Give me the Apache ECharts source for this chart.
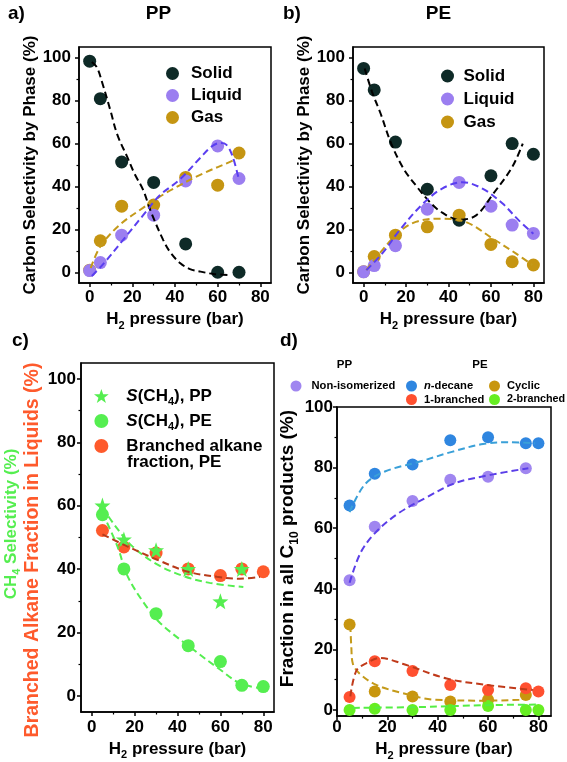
<!DOCTYPE html>
<html><head><meta charset="utf-8">
<script src="https://cdn.jsdelivr.net/npm/echarts@6/dist/echarts.min.js"></script>
<style>html,body{margin:0;padding:0;background:#fff}#c{width:567px;height:762px}</style>
</head><body><div id="c"></div>
<script>
// ---------- data ----------
// Panel a (PP)
const pressA = [0, 5, 15, 30, 45, 60, 70];
const aSolid = [98.4, 80.9, 51.4, 41.9, 13.2, 0, 0];
const aLiquid = [0.8, 4.5, 17.3, 26.6, 42.6, 58.9, 43.7];
const aGas = [1, 14.7, 30.8, 31.3, 44.2, 40.6, 55.6];
const aSolidFit = [[1,98],[3.4,95.5],[6,88],[9.7,75.5],[13,64],[17.5,54],[21,46],[25,38.5],[29,27.5],[34.5,15],[38,9],[42.5,4.2],[47,1.5],[52,0.3],[58,-0.8],[66,-1.3]];
const aLiquidFit = [[1,-1.7],[6.5,4],[16,15.5],[25,26.5],[33,36],[42,43],[52,53.5],[57,58.5],[61,60.2],[64,59.5],[67,54],[70,43]];
const aGasFit = [[0.5,2],[5,12],[14,22],[25,30],[37.5,38],[53,46],[67,52],[70,54]];
// Panel b (PE)
const pressB = [0, 5, 15, 30, 45, 60, 70, 80];
const bSolid = [95, 85, 60.7, 38.7, 24.3, 45, 60, 55];
const bLiquid = [0.2, 3.1, 12.4, 29.4, 41.9, 30.8, 22, 18.1];
const bGas = [0.3, 7.3, 17.3, 21.2, 26.6, 13, 4.9, 3.4];
const bSolidFit = [[0.5,95],[4,84],[8,74],[13,60],[19,48],[25,40],[30,34],[36,28.5],[45,24.5],[53,26.5],[61,36.5],[70,49],[75,60]];
const bLiquidFit = [[1.3,1],[9,9],[17,19.7],[28,32],[37,39],[46.5,42],[56,39],[65.5,32],[73,24.3],[80,18]];
const bGasFit = [[1.3,1],[7.5,8.8],[17,19],[24.6,23.5],[35.7,25],[48,23.5],[60.7,15.8],[71.7,8.8],[79.5,3.4]];
// Panel c
const pressCPP = [5, 15, 30, 45, 60, 70];
const cCH4PP = [60.1, 49.4, 46, 40.1, 29.9, 40.1];
const pressCPE = [5, 15, 30, 45, 60, 70, 80];
const cCH4PE = [57.2, 40.1, 26, 15.9, 10.9, 3.4, 3];
const cBranched = [52.2, 47, 45.1, 40.1, 38, 40.1, 39.2];
const cPPFit = [[5,59.5],[11,53.6],[19,47.2],[30.5,41.5],[43,37.8],[55,35.7],[70.7,34.4]];
const cPEFit = [[5,57.8],[12,47.2],[16.6,38],[24.3,29.4],[32,23],[47.5,14.6],[60,8.3],[69,4.1],[78.5,2.5]];
const cBranchedFit = [[5,51],[16.6,47.2],[30.5,43],[44.4,39.3],[58.4,37.6],[69,37],[78.5,37.6]];
// Panel d
const pressDPP = [5, 15, 30, 45, 60, 75];
const dNonIso = [42.8, 60.5, 69, 76, 77, 79.8];
const pressDPE = [5, 15, 30, 45, 60, 75, 80];
const dDecane = [67.5, 78, 81, 89, 90, 88, 88];
const dCyclic = [28.2, 6.1, 4.5, 2.8, 3.4, 5];
const pressDCyc = [5, 15, 30, 45, 60, 75];
const d1Branched = [4.3, 16.1, 12.9, 8.3, 6.6, 7.2, 6.1];
const d2Branched = [0, 0.4, 0, 0, 1.3, 0, 0];
const dDecaneFit = [[5,65.3],[11,74.4],[19,78.7],[33,82],[45.6,85.2],[58,87.8],[68.5,88.4],[78.7,88]];
const dNonIsoFit = [[5,42],[9.3,51.8],[15,58.3],[24,64.7],[35.4,70.1],[47,74.9],[61,77.6],[76,79.8]];
const dCyclicFit = [[5.3,28],[5.7,20.6],[6.3,15.3],[9,12],[15.6,8.3],[26,5.6],[39,3.4],[59,3.1],[74,3.4]];
const d1BranchedFit = [[5.3,4.5],[7.7,13],[11.7,15.5],[17,17.2],[26,15.3],[43.5,10.4],[59.3,8.3],[77.8,6.6]];
const d2BranchedFit = [[6.3,0.7],[33,1],[59,1.6],[79,1.8]];
// tick labels
const ticksX = [0, 20, 40, 60, 80];
const minorX = [10, 30, 50, 70];
const ticksY = [0, 20, 40, 60, 80, 100];
const minorY = [10, 30, 50, 70, 90];

// ---------- styling ----------
const F = '"Liberation Sans", Arial, Helvetica, sans-serif';
const C = {
  solid: '#0e2a27', liquid: '#9b7ef0', gas: '#c59512',
  liqFit: '#5a3ef0', gasFit: '#c49a1a', solFit: '#000000',
  green: '#55ee50', red: '#fe5a2c', redFit: '#b83a1a',
  dPurple: '#a086f0', dBlue: '#2f86e0', dGold: '#c8960e', dRed: '#ff5030', dGreen: '#66ee22',
  dBlueFit: '#3aa0d8', dPurpleFit: '#5a3ee8', dGoldFit: '#c49a1a', dRedFit: '#c03a1a', dGreenFit: '#55ee44'
};
const STAR = 'path://M0,-1L0.235,-0.324L0.951,-0.309L0.38,0.124L0.588,0.809L0,0.4L-0.588,0.809L-0.38,0.124L-0.951,-0.309L-0.235,-0.324Z';
const subRich = { s: { fontSize: 11, fontWeight: 'bold', fontFamily: F, color: '#000', verticalAlign: 'bottom', lineHeight: 11 } };
const subRich12 = { s: { fontSize: 12, fontWeight: 'bold', fontFamily: F, color: '#000', verticalAlign: 'bottom', lineHeight: 12 } };
const xName = 'H{s|2} pressure (bar)';

const grids = [
  { left: 79, top: 47, width: 192, height: 236 },
  { left: 353, top: 47, width: 191, height: 236 },
  { left: 81, top: 363, width: 193, height: 349 },
  { left: 337, top: 407, width: 214, height: 317 }
].map(g => Object.assign(g, { show: true, borderColor: '#000', borderWidth: 1.5, backgroundColor: 'transparent', containLabel: false }));

const xAxis = [], yAxis = [];
function addAxes(g, c) {
  const lab = { fontSize: 17, fontWeight: 'bold', fontFamily: F, color: '#000' };
  xAxis.push({
    type: 'value', gridIndex: g, position: 'bottom', min: c.xmin, max: c.xmax,
    axisLine: { onZero: false, lineStyle: { color: '#000', width: 1.5 } },
    axisTick: { customValues: ticksX, length: 4, lineStyle: { color: '#000', width: 1.5 } },
    axisLabel: Object.assign({ customValues: ticksX, margin: c.xMargin }, lab),
    splitLine: { show: false },
    name: xName, nameLocation: 'middle', nameGap: c.xGap,
    nameTextStyle: { fontSize: 17, fontWeight: 'bold', fontFamily: F, color: '#000', lineHeight: 24, rich: subRich }
  });
  xAxis.push({
    type: 'value', gridIndex: g, position: 'bottom', min: c.xmin, max: c.xmax,
    axisLine: { show: false, onZero: false }, axisLabel: { show: false }, splitLine: { show: false },
    axisTick: { customValues: minorX, length: 2.5, lineStyle: { color: '#000', width: 1.2 } }
  });
  yAxis.push({
    type: 'value', gridIndex: g, position: 'left', min: c.ymin, max: c.ymax,
    axisLine: { onZero: false, lineStyle: { color: '#000', width: 1.5 } },
    axisTick: { customValues: ticksY, length: 4, lineStyle: { color: '#000', width: 1.5 } },
    axisLabel: Object.assign({ customValues: ticksY, margin: c.yMargin }, lab),
    splitLine: { show: false },
    name: c.yName || '', nameLocation: 'middle', nameGap: c.yGap || 30,
    nameTextStyle: Object.assign({ fontSize: 17, fontWeight: 'bold', fontFamily: F, color: '#000' }, c.yNameStyle || {})
  });
  yAxis.push({
    type: 'value', gridIndex: g, position: 'left', min: c.ymin, max: c.ymax,
    axisLine: { show: false, onZero: false }, axisLabel: { show: false }, splitLine: { show: false },
    axisTick: { customValues: minorY, length: 2.5, lineStyle: { color: '#000', width: 1.2 } }
  });
}
addAxes(0, { xmin: -5, xmax: 85, ymin: -5, ymax: 105, xMargin: 6, yMargin: 8, xGap: 24, yName: 'Carbon Selectivity by Phase (%)', yGap: 37 });
addAxes(1, { xmin: -5, xmax: 85, ymin: -5, ymax: 105, xMargin: 6, yMargin: 8, xGap: 24, yName: 'Carbon Selectivity by Phase (%)', yGap: 37 });
addAxes(2, { xmin: -5, xmax: 85, ymin: -5, ymax: 105, xMargin: 7, yMargin: 5, xGap: 24 });
addAxes(3, { xmin: 0, xmax: 85, ymin: -2, ymax: 100, xMargin: 3, yMargin: 4, xGap: 19,
  yName: 'Fraction in all C{s|10} products (%)', yGap: 27, yNameStyle: { fontSize: 19, lineHeight: 25, padding: [0, 0, 0, 26], rich: subRich12 } });

function zip(xs, ys) { return xs.map((x, i) => [x, ys[i]]); }
function sc(name, g, xs, ys, color, size, symbol) {
  return { type: 'scatter', name, xAxisIndex: 2 * g, yAxisIndex: 2 * g, data: zip(xs, ys),
    symbol: symbol || 'circle', symbolSize: size, itemStyle: { color, opacity: 1 }, z: 2, silent: true };
}
function fit(g, pts, color) {
  return { type: 'line', xAxisIndex: 2 * g, yAxisIndex: 2 * g, data: pts, smooth: 0.35, symbol: 'none',
    lineStyle: { color, width: 2, type: [7, 4] }, z: 3, silent: true };
}

const series = [
  sc('Solid', 0, pressA, aSolid, C.solid, 13),
  sc('Gas', 0, pressA, aGas, C.gas, 13),
  sc('Liquid', 0, pressA, aLiquid, C.liquid, 13),
  fit(0, aSolidFit, C.solFit), fit(0, aGasFit, C.gasFit), fit(0, aLiquidFit, C.liqFit),
  sc('Solid', 1, pressB, bSolid, C.solid, 13),
  sc('Gas', 1, pressB, bGas, C.gas, 13),
  sc('Liquid', 1, pressB, bLiquid, C.liquid, 13),
  fit(1, bSolidFit, C.solFit), fit(1, bGasFit, C.gasFit), fit(1, bLiquidFit, C.liqFit),
  sc('Branched alkane fraction, PE', 2, pressCPE, cBranched, C.red, 13),
  sc('S(CH4), PE', 2, pressCPE, cCH4PE, C.green, 13),
  sc('S(CH4), PP', 2, pressCPP, cCH4PP, C.green, 16, STAR),
  fit(2, cPPFit, C.green), fit(2, cPEFit, C.green), fit(2, cBranchedFit, C.redFit),
  sc('Non-isomerized', 3, pressDPP, dNonIso, C.dPurple, 12),
  sc('n-decane', 3, pressDPE, dDecane, C.dBlue, 12),
  sc('Cyclic', 3, pressDCyc, dCyclic, C.dGold, 12),
  sc('1-branched', 3, pressDPE, d1Branched, C.dRed, 12),
  sc('2-branched', 3, pressDPE, d2Branched, C.dGreen, 12),
  fit(3, dDecaneFit, C.dBlueFit), fit(3, dNonIsoFit, C.dPurpleFit), fit(3, dCyclicFit, C.dGoldFit),
  fit(3, d1BranchedFit, C.dRedFit), fit(3, d2BranchedFit, C.dGreenFit)
];

const lgText = (size, lh) => ({ fontSize: size, fontWeight: 'bold', fontFamily: F, color: '#000', lineHeight: lh });
const circ = n => ({ name: n, icon: 'circle' });
const legend = [
  { data: ['Solid', 'Liquid', 'Gas'].map(circ), orient: 'vertical', left: 161, top: 59, itemWidth: 27, itemHeight: 13, itemGap: 3, textStyle: lgText(17, 19), selectedMode: false },
  { data: ['Solid', 'Liquid', 'Gas'].map(circ), orient: 'vertical', left: 436, top: 61.5, itemWidth: 22, itemHeight: 13, itemGap: 4, textStyle: lgText(17, 19), selectedMode: false },
  { data: [{ name: 'S(CH4), PP', icon: STAR }, circ('S(CH4), PE'), circ('Branched alkane fraction, PE')],
    orient: 'vertical', left: 89, top: 380, itemWidth: 40, itemHeight: 14, itemGap: 3, selectedMode: false,
    formatter: n => ({ 'S(CH4), PP': '{i|S}(CH{s|4}), PP', 'S(CH4), PE': '{i|S}(CH{s|4}), PE', 'Branched alkane fraction, PE': 'Branched alkane' })[n],
    textStyle: Object.assign(lgText(17, 22), { rich: {
      i: { fontStyle: 'italic', fontWeight: 'bold', fontSize: 17, fontFamily: F, color: '#000', lineHeight: 22 },
      s: { fontSize: 11, fontWeight: 'bold', fontFamily: F, color: '#000', verticalAlign: 'bottom', lineHeight: 11 } } }) },
  { data: [circ('Non-isomerized')], left: 285.5, top: 374, itemWidth: 21, itemHeight: 11, textStyle: lgText(11.2, 14), selectedMode: false },
  { data: [circ('n-decane')], left: 401, top: 374, itemWidth: 15, itemHeight: 11, textStyle: Object.assign(lgText(11.2, 14), { rich: { i: { fontStyle: 'italic', fontWeight: 'bold', fontSize: 11.2, fontFamily: F, color: '#000' } } }), formatter: () => '{i|n}-decane', selectedMode: false },
  { data: [circ('Cyclic')], left: 484, top: 374, itemWidth: 15, itemHeight: 11, textStyle: lgText(11.2, 14), selectedMode: false },
  { data: [circ('1-branched')], left: 401, top: 387.5, itemWidth: 15, itemHeight: 11, textStyle: lgText(11.2, 14), selectedMode: false },
  { data: [circ('2-branched')], left: 484, top: 387.5, itemWidth: 15, itemHeight: 11, textStyle: lgText(10.8, 14), selectedMode: false }
];

const T = (text, x, y, size, align, fill) => ({ type: 'text', x, y, silent: true,
  style: { text, font: 'bold ' + size + 'px ' + F, fill: fill || '#000', align: align || 'left', verticalAlign: 'middle' } });
const graphic = [
  T('a)', 8, 14, 19), T('PP', 158.5, 14, 19, 'center'),
  T('b)', 283, 14, 19), T('PE', 438.5, 14, 19, 'center'),
  T('c)', 12, 341, 19), T('d)', 280, 341, 19),
  T('fraction, PE', 127, 462, 17),
  T('PP', 344.5, 365, 11.5, 'center'), T('PE', 480, 365, 11.5, 'center'),
  { type: 'text', x: 11, y: 524, rotation: Math.PI / 2, silent: true,
    style: { text: 'CH{s|4} Selectivity (%)', font: 'bold 17px ' + F, fill: C.green, align: 'center', verticalAlign: 'middle', lineHeight: 22,
      rich: { s: { fontSize: 11, fontWeight: 'bold', fontFamily: F, fill: C.green, verticalAlign: 'bottom', lineHeight: 11 } } } },
  { type: 'text', x: 33, y: 550, rotation: Math.PI / 2, silent: true,
    style: { text: 'Branched Alkane Fraction in Liquids (%)', font: 'bold 19.5px ' + F, fill: C.red, align: 'center', verticalAlign: 'middle' } }
];

const chart = echarts.init(document.getElementById('c'), null, { renderer: 'canvas' });
chart.setOption({ animation: false, backgroundColor: '#fff', grid: grids, xAxis, yAxis, series, legend, graphic });
</script>
</body></html>
